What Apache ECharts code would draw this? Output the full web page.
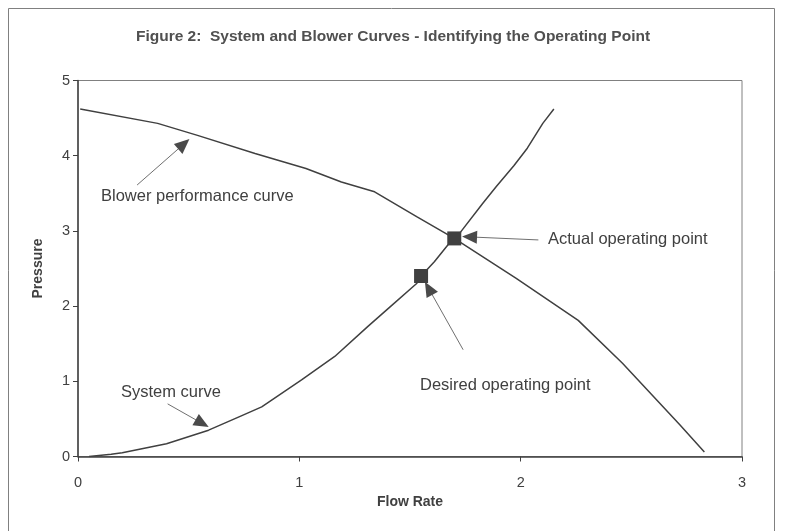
<!DOCTYPE html>
<html>
<head>
<meta charset="utf-8">
<script src="https://cdn.jsdelivr.net/npm/echarts@6/dist/echarts.min.js"></script>
<style>
    html, body { margin: 0; padding: 0; background: #fff; }
    #chart { width: 786px; height: 531px; }
</style>
</head>
<body>
<div id="chart"></div>
<script>
//坐标刻度
const xTicks = [0, 1, 2, 3];
const yTicks = [0, 1, 2, 3, 4, 5];
//风机性能曲线 [流量, 压力]
const blowerCurve = [
    [0.01, 4.62], [0.36, 4.43], [0.54, 4.27], [0.80, 4.03], [1.03, 3.83],
    [1.19, 3.65], [1.34, 3.52], [1.53, 3.19], [1.70, 2.90], [1.98, 2.37],
    [2.26, 1.81], [2.46, 1.24], [2.72, 0.42], [2.83, 0.06]
];
//系统曲线
const systemCurve = [
    [0.05, 0.00], [0.15, 0.03], [0.20, 0.05], [0.30, 0.11], [0.40, 0.17],
    [0.59, 0.35], [0.73, 0.53], [0.83, 0.66], [0.91, 0.82], [1.01, 1.02],
    [1.16, 1.33], [1.31, 1.73], [1.41, 1.99], [1.53, 2.30], [1.55, 2.40],
    [1.61, 2.59], [1.67, 2.81], [1.70, 2.90], [1.73, 2.99], [1.83, 3.37],
    [1.89, 3.59], [1.97, 3.87], [2.03, 4.10], [2.10, 4.43], [2.15, 4.62]
];
//工作点
const operatingPoints = [[1.55, 2.40], [1.70, 2.90]];
//标注箭头 起点/终点
const arrowTails = [[0.267, 3.61], [2.08, 2.88], [1.74, 1.42], [0.405, 0.70]];
const arrowTips = [[0.478, 4.155], [1.769, 2.92], [1.584, 2.237], [0.561, 0.44]];
const noteTexts = ['Blower performance curve', 'Actual operating point', 'Desired operating point', 'System curve'];

const ink = '#404040';
const noteFont = 'Liberation Sans, Arial, sans-serif';

const chart = echarts.init(document.getElementById('chart'));

//文字位置
const notePos = [[101, 197], [548, 240], [420, 386], [121, 393]];
const graphics = [{
    type: 'rect',
    shape: { x: 8.5, y: 8.5, width: 766, height: 540 },
    style: { fill: 'none', stroke: '#808080', lineWidth: 1 },
    silent: true
}];
for (let i = 0; i < noteTexts.length; i++) {
    graphics.push({
        type: 'text',
        left: notePos[i][0],
        top: notePos[i][1] - 9,
        style: { text: noteTexts[i], fill: ink, font: '16.5px ' + noteFont }
    });
}

const arrows = arrowTails.map(function (t, i) {
    return [{ coord: t }, { coord: arrowTips[i] }];
});

const option = {
    animation: false,
    backgroundColor: '#fff',
    title: {
        text: 'Figure 2:  System and Blower Curves - Identifying the Operating Point',
        left: 'center',
        top: 24,
        textStyle: { fontFamily: noteFont, fontSize: 15.5, fontWeight: 'bold', color: '#505050' }
    },
    grid: {
        left: 78, right: 44, top: 80.5, bottom: 74.5,
        show: true, borderColor: '#808080', borderWidth: 1, backgroundColor: '#fff'
    },
    graphic: graphics,
    xAxis: {
        type: 'value',
        min: xTicks[0], max: xTicks[xTicks.length - 1], interval: 1,
        name: 'Flow Rate',
        nameLocation: 'middle',
        nameGap: 36,
        nameTextStyle: { fontFamily: noteFont, fontSize: 14, fontWeight: 'bold', color: ink },
        axisLine: { lineStyle: { color: ink, width: 1.5 } },
        axisTick: { length: 5, lineStyle: { color: ink } },
        axisLabel: { fontFamily: noteFont, fontSize: 14.5, color: ink, margin: 19 },
        splitLine: { show: false }
    },
    yAxis: {
        type: 'value',
        min: yTicks[0], max: yTicks[yTicks.length - 1], interval: 1,
        name: 'Pressure',
        nameLocation: 'middle',
        nameGap: 33,
        nameTextStyle: { fontFamily: noteFont, fontSize: 14, fontWeight: 'bold', color: ink },
        axisLine: { show: true, lineStyle: { color: ink, width: 1.5 } },
        axisTick: { show: true, length: 5, lineStyle: { color: ink } },
        axisLabel: { fontFamily: noteFont, fontSize: 14.5, color: ink, margin: 8 },
        splitLine: { show: false }
    },
    series: [
        {
            name: 'Blower',
            type: 'line',
            data: blowerCurve,
            symbol: 'none',
            lineStyle: { color: ink, width: 1.5 }
        },
        {
            name: 'System',
            type: 'line',
            data: systemCurve,
            symbol: 'none',
            lineStyle: { color: ink, width: 1.5 }
        },
        {
            name: 'Operating',
            type: 'scatter',
            data: operatingPoints,
            symbol: 'rect',
            symbolSize: 14,
            itemStyle: { color: ink, opacity: 1 },
            z: 5,
            markLine: {
                silent: true,
                symbol: ['none', 'triangle'],
                symbolSize: [13, 15],
                label: { show: false },
                lineStyle: { color: '#4a4a4a', width: 0.8, type: 'solid' },
                itemStyle: { color: ink },
                data: arrows
            }
        }
    ]
};

chart.setOption(option);
</script>
</body>
</html>
